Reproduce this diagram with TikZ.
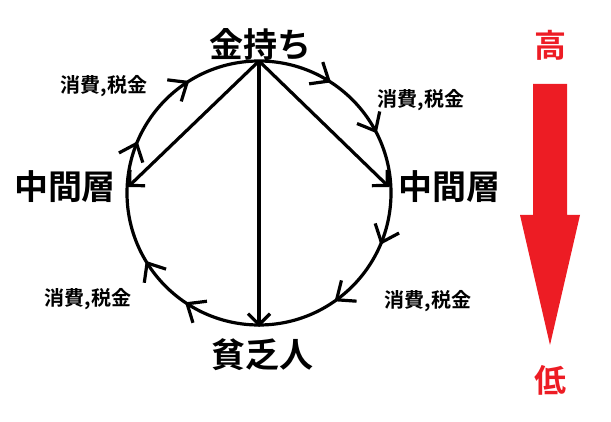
\documentclass[tikz,border=0pt]{standalone}
\usepackage{fontspec}
\setmainfont{Noto Sans CJK JP}[BoldFont={Noto Sans CJK JP Bold}]
\usetikzlibrary{arrows.meta,calc}
\begin{document}
\begin{tikzpicture}[x=1pt,y=1pt,line width=3.2pt,
  big/.style={font=\bfseries\fontsize{34}{34}\selectfont},
  small/.style={font=\bfseries\fontsize{20}{20}\selectfont},
  red/.style={font=\bfseries\fontsize{32}{32}\selectfont,text={rgb,255:red,237;green,28;blue,36}},
  arr/.style={-{Straight Barb[length=11pt,width=22pt,line width=3.2pt]}}]
\useasboundingbox (0,0) rectangle (611,-422);
\coordinate (c) at (259,-193);
\draw (c) circle (132);
\coordinate (t) at (259,-61);
\coordinate (l) at (128,-187);
\coordinate (r) at (389,-187);
\coordinate (b) at (259,-327);
\draw[arr] (t) -- (l);
\draw[arr] (t) -- (r);
\draw[arr] (t) -- (b);
\foreach \a in {58,28,-22,-54,-123,-148,158,123}{
  \draw[line join=miter] ($(c)+(\a:132)+(\a+90+40:20)$) -- ($(c)+(\a:132)$) -- ($(c)+(\a:132)+(\a+90-40:20)$);
}
\node[big] (rich) at (260,-45) {金持ち};
\node[big] (ml) at (65,-187) {中間層};
\node[big] (mr) at (449,-187) {中間層};
\node[big] (poor) at (262,-355) {貧乏人};
\node[small] (s1) at (104,-86) {消費,税金};
\node[small] (s2) at (421,-100) {消費,税金};
\node[small] (s3) at (88,-299) {消費,税金};
\node[small] (s4) at (428,-301) {消費,税金};
\node[red] (hi) at (550,-45) {高};
\node[red] (lo) at (550,-380) {低};
\fill[fill={rgb,255:red,237;green,28;blue,36}] (533,-84) -- (567,-84) -- (567,-215) -- (580,-215) -- (550,-345) -- (520,-215) -- (533,-215) -- cycle;
\end{tikzpicture}
\end{document}
